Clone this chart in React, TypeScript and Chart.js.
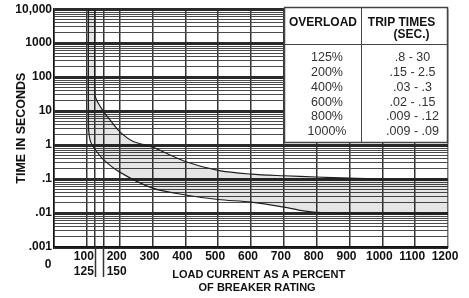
import React, { useEffect, useRef } from 'react';
import { Chart, registerables } from 'chart.js';

Chart.register(...registerables);

// ---- data ----
const X_GRID = [0, 100, 125, 150, 200, 300, 400, 500, 600, 700, 800, 900, 1000, 1100, 1200];
const X_TICK_VALUES = [100, 200, 300, 400, 500, 600, 700, 800, 900, 1000, 1100, 1200];
const X_TICK_LABELS: (string | string[])[] = [
  ['100', '125'], ['200', '150'], '300', '400', '500', '600', '700', '800', '900', '1000', '1100', '1200',
];
const X_EXTENDED = [125, 150];
const X_ZERO_LABEL = '0';

const Y_DECADES = [0.001, 0.01, 0.1, 1, 10, 100, 1000, 10000];
const Y_DECADE_LABELS = ['.001', '.01', '.1', '1', '10', '100', '1000', '10,000'];
const Y_MULTIPLIERS = [1, 2, 3, 4, 5, 6, 7, 8, 9];

const UPPER_X = [125, 125, 135, 150, 170, 200, 240, 300, 400, 500, 600, 700, 800, 900, 1000, 1100, 1200];
const UPPER_Y = [10000, 30, 17, 10, 5.6, 2.5, 1.3, 0.87, 0.33, 0.18, 0.14, 0.125, 0.115, 0.107, 0.1, 0.097, 0.094];
const LOWER_X = [105, 105, 107, 112, 125, 150, 200, 300, 400, 500, 600, 700, 750, 800, 900, 1000, 1200];
const LOWER_Y = [10000, 3.5, 2, 1.2, 0.75, 0.38, 0.16, 0.054, 0.034, 0.025, 0.021, 0.015, 0.012, 0.0105, 0.0099, 0.0098, 0.0097];

const TABLE_HEAD_1 = 'OVERLOAD';
const TABLE_HEAD_2 = ['TRIP TIMES', '(SEC.)'];
const TABLE_OVERLOAD = ['125%', '200%', '400%', '600%', '800%', '1000%'];
const TABLE_TIMES = ['.8 - 30', '.15 - 2.5', '.03 - .3', '.02 - .15', '.009 - .12', '.009 - .09'];

const X_TITLE = ['\u00A0\u00A0\u00A0\u00A0\u00A0LOAD CURRENT AS A PERCENT', '\u00A0\u00A0\u00A0\u00A0OF BREAKER RATING'];
const Y_TITLE = 'TIME IN SECONDS';

const FONT = "'Liberation Sans', Arial, Helvetica, sans-serif";

const isDecade = (v: number) => {
  const l = Math.log10(v);
  return Math.abs(l - Math.round(l)) < 1e-6;
};

const extrasPlugin = {
  id: 'extras',
  afterDraw(chart: any) {
    const { ctx, chartArea, scales } = chart;
    const xs = scales.x;
    const ys = scales.y;
    ctx.save();
    // extended grid lines for 125 / 150 below the axis
    ctx.strokeStyle = '#333';
    ctx.lineWidth = 1.5;
    X_EXTENDED.forEach((v) => {
      const px = Math.round(xs.getPixelForValue(v)) + 0.5;
      ctx.beginPath();
      ctx.moveTo(px, chartArea.bottom);
      ctx.lineTo(px, chartArea.bottom + 30);
      ctx.stroke();
    });
    // "0" label
    ctx.fillStyle = '#111';
    ctx.font = `bold 12px ${FONT}`;
    ctx.textAlign = 'center';
    ctx.textBaseline = 'middle';
    ctx.fillText(X_ZERO_LABEL, xs.getPixelForValue(0) - 6, chartArea.bottom + 18);

    // table
    const left = Math.round(xs.getPixelForValue(700)) + 0.5;
    const right = Math.round(chartArea.right) - 0.5;
    const top = Math.round(chartArea.top) - 1.5;
    const bottom = Math.round(ys.getPixelForValue(1)) - 2.5;
    const div = left + 77;
    const sep = top + 37;
    ctx.fillStyle = '#fff';
    ctx.fillRect(left, top, right - left, bottom - top);
    ctx.strokeStyle = '#444';
    ctx.lineWidth = 1.5;
    ctx.strokeRect(left, top, right - left, bottom - top);
    ctx.lineWidth = 1;
    ctx.beginPath();
    ctx.moveTo(left, sep);
    ctx.lineTo(right, sep);
    ctx.moveTo(div, top);
    ctx.lineTo(div, bottom);
    ctx.stroke();

    ctx.fillStyle = '#111';
    ctx.font = `bold 12px ${FONT}`;
    ctx.textAlign = 'center';
    ctx.textBaseline = 'middle';
    ctx.fillText(TABLE_HEAD_1, (left + div) / 2, top + 15);
    ctx.fillText(TABLE_HEAD_2[0], div + 40, top + 15);
    ctx.fillText(TABLE_HEAD_2[1], div + 50, top + 27);

    ctx.fillStyle = '#333';
    ctx.font = `12.5px ${FONT}`;
    TABLE_OVERLOAD.forEach((t, i) => {
      const yy = top + 50.5 + i * 14.7;
      ctx.fillText(t, (left + div) / 2 + 4, yy);
      ctx.fillText(TABLE_TIMES[i], div + 51, yy);
    });
    ctx.restore();
  },
};

export default function App() {
  const ref = useRef<HTMLCanvasElement>(null);

  useEffect(() => {
    if (!ref.current) return;
    const upper = UPPER_X.map((x, i) => ({ x, y: UPPER_Y[i] }));
    const lower = LOWER_X.map((x, i) => ({ x, y: LOWER_Y[i] }));
    const band = [...upper, ...lower.slice().reverse()];
    const yGrid: number[] = [];
    Y_DECADES.forEach((d) => {
      if (d === 10000) {
        yGrid.push(d);
        return;
      }
      Y_MULTIPLIERS.forEach((m) => yGrid.push(Number((m * d).toPrecision(3))));
    });

    const chart = new Chart(ref.current, {
      type: 'line',
      data: {
        datasets: [
          {
            data: band,
            fill: 'shape',
            backgroundColor: 'rgba(0,0,0,0.1)',
            borderWidth: 0,
            pointRadius: 0,
            tension: 0.3,
          } as any,
          { data: upper, borderColor: '#222', borderWidth: 1.2, pointRadius: 0, fill: false, tension: 0.3 },
          { data: lower, borderColor: '#222', borderWidth: 1.2, pointRadius: 0, fill: false, tension: 0.3 },
        ],
      },
      options: {
        animation: false,
        responsive: true,
        maintainAspectRatio: false,
        layout: { padding: { top: 9, right: 21, left: 0, bottom: 0 } },
        plugins: { legend: { display: false }, tooltip: { enabled: false } },
        scales: {
          x: {
            type: 'linear',
            min: 0,
            max: 1200,
            afterBuildTicks: (s: any) => {
              s.ticks = X_GRID.map((v) => ({ value: v }));
            },
            afterFit: (s: any) => {
              s.height = 51;
            },
            grid: {
              drawTicks: false,
              color: (c: any) => (c.tick && c.tick.value === 1200 ? '#777' : '#333'),
              lineWidth: 1.5,
            },
            border: { display: true, color: '#111', width: 1.5 },
            ticks: {
              autoSkip: false,
              maxRotation: 0,
              padding: 2.5,
              labelOffset: -3,
              color: '#111',
              font: { family: FONT, weight: 'bold', size: 12, lineHeight: 1.25 },
              callback: (v: any) => {
                const i = X_TICK_VALUES.indexOf(Number(v));
                return i >= 0 ? X_TICK_LABELS[i] : '';
              },
            },
            title: {
              display: true,
              text: X_TITLE,
              color: '#111',
              font: { family: FONT, weight: 'bold', size: 11, lineHeight: 1.18 },
              padding: { top: 0, bottom: 3.5 },
            },
          },
          y: {
            type: 'logarithmic',
            min: 0.001,
            max: 10000,
            afterBuildTicks: (s: any) => {
              s.ticks = yGrid.map((v) => ({ value: v }));
            },
            afterFit: (s: any) => {
              s.width = 54;
            },
            grid: {
              drawTicks: false,
              color: (c: any) => (c.tick && isDecade(c.tick.value) ? '#2a2a2a' : '#4a4a4a'),
              lineWidth: (c: any) => (c.tick && isDecade(c.tick.value) ? 3 : 1),
            },
            border: { display: true, color: '#111', width: 1.5 },
            ticks: {
              autoSkip: false,
              padding: 2,
              color: '#111',
              font: { family: FONT, weight: 'bold', size: 12 },
              callback: (v: any) => {
                const n = Number(v);
                const i = Y_DECADES.findIndex((d) => Math.abs(d - n) / d < 1e-6);
                return i >= 0 ? Y_DECADE_LABELS[i] : '';
              },
            },
            title: {
              display: true,
              text: Y_TITLE,
              color: '#111',
              font: { family: FONT, weight: 'bold', size: 12.5 },
              padding: { top: 14, bottom: 0 },
            },
          },
        },
      } as any,
      plugins: [extrasPlugin],
    });
    return () => chart.destroy();
  }, []);

  return (
    <div style={{ position: 'fixed', left: 0, top: 0, width: 469, height: 298, background: '#fff' }}>
      <canvas ref={ref} />
    </div>
  );
}
